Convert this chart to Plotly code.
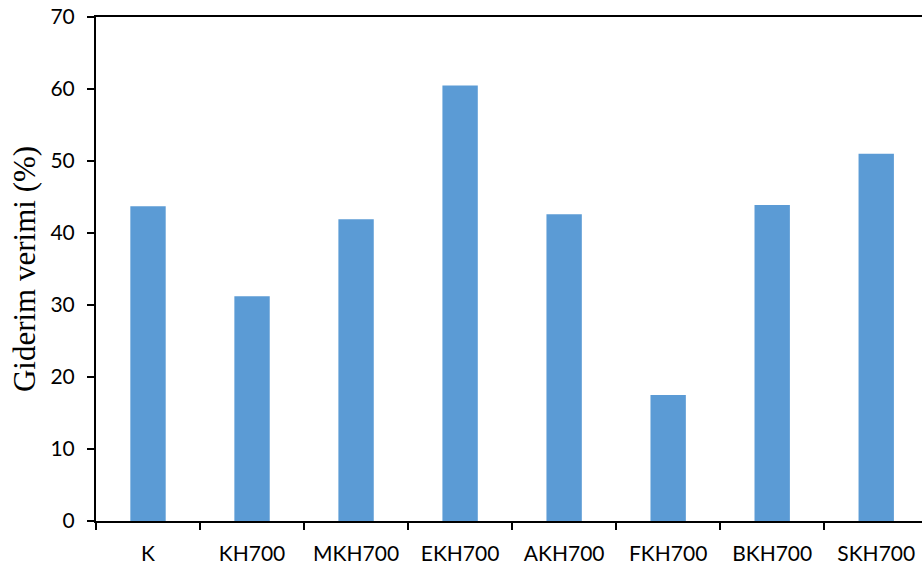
import plotly.graph_objects as go

categories = ["K", "KH700", "MKH700", "EKH700", "AKH700", "FKH700", "BKH700", "SKH700"]
values = [43.7, 31.2, 41.9, 60.5, 42.6, 17.5, 43.9, 51.0]
y_ticks = [0, 10, 20, 30, 40, 50, 60, 70]

fig = go.Figure(go.Bar(x=categories, y=values, marker=dict(color="#5B9BD5", line=dict(width=0)), width=0.34))

fig.update_layout(
    width=922, height=568,
    margin=dict(l=96, r=0, t=17, b=47, autoexpand=False),
    plot_bgcolor="white", paper_bgcolor="white",
    showlegend=False,
    font=dict(family="Lato, Carlito, Open Sans, sans-serif", color="#000000"),
)
fig.update_xaxes(
    type="category", range=[-0.5, 7.44],
    showline=True, linecolor="black", linewidth=2, mirror=True,
    ticks="outside", tickson="boundaries", ticklen=7, tickwidth=2, tickcolor="black",
    showgrid=False, tickfont=dict(size=21), ticklabelstandoff=13, automargin=False,
    ticklabeloverflow="allow",
)
fig.update_yaxes(
    range=[0, 70], tickvals=y_ticks,
    showline=True, linecolor="black", linewidth=2,
    ticks="outside", ticklen=7, tickwidth=2, tickcolor="black",
    showgrid=False, zeroline=False, tickfont=dict(size=21), ticklabelstandoff=8, automargin=False,
    ticklabeloverflow="allow",
    title=dict(text="Giderim verimi (%)", font=dict(family="Liberation Serif, Times New Roman, serif", size=31), standoff=6),
)

fig.write_html(
    "out.html",
    config={"displayModeBar": False},
    post_script="document.body.style.margin='0';document.body.style.overflow='hidden';",
)
